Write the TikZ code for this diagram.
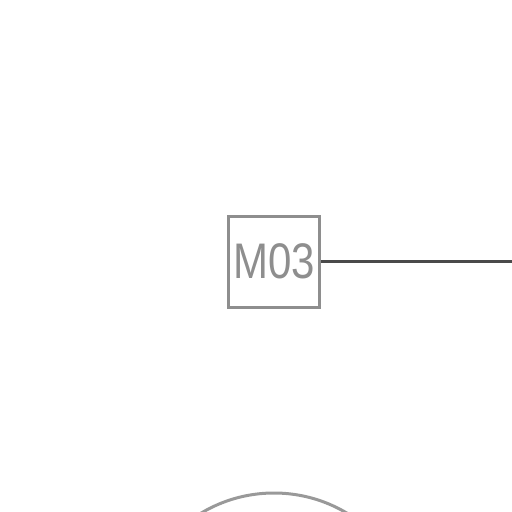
\documentclass[tikz,border=0pt]{standalone}
\usepackage{fontspec}
\usepackage{graphicx}
\setmainfont{Liberation Sans}
\definecolor{boxgray}{HTML}{8E8E8E}
\definecolor{linegray}{HTML}{4A4A4A}
\definecolor{arcgray}{HTML}{999999}
\tikzset{
  tagbox/.style={draw=boxgray,line width=3pt,minimum size=91pt,inner sep=0pt,
    text=boxgray,font=\fontsize{50}{50}\selectfont},
  wire/.style={draw=linegray,line width=3pt},
  rim/.style={draw=arcgray,line width=3pt,circle,minimum size=284pt,inner sep=0pt}
}
\begin{document}
\begin{tikzpicture}[x=1pt,y=-1pt]
  % frame
  \useasboundingbox (0,0) rectangle (512,512);
  \clip (0,0) rectangle (512,512);
  % tag
  \node[tagbox] (m03) at (274,261.5) {\scalebox{0.84}[1]{M03}};
  % wire
  \coordinate (wireend) at (513,261.5);
  \draw[wire] (m03.east) -- (wireend);
  % wheel
  \node[rim] (wheel) at (274,635) {};
\end{tikzpicture}
\end{document}
